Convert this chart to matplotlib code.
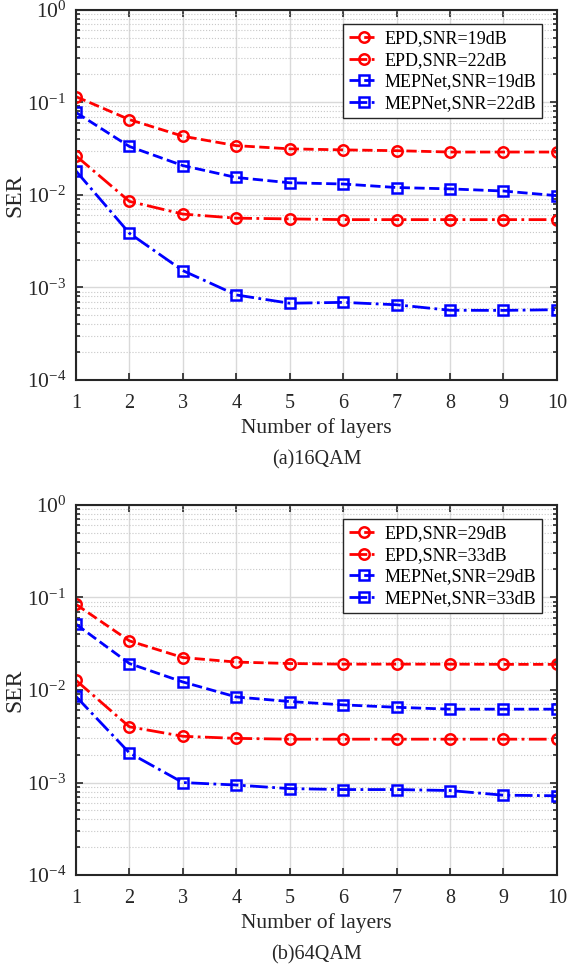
import numpy as np
import matplotlib
matplotlib.use("Agg")
import matplotlib.pyplot as plt
from matplotlib.ticker import LogLocator, NullFormatter

plt.rcParams['font.family'] = ['Liberation Serif', 'DejaVu Serif']
plt.rcParams['mathtext.fontset'] = 'stix'

layers = np.arange(1, 11)

# (a) 16QAM
epd_19 = [0.115, 0.065, 0.043, 0.034, 0.0314, 0.0306, 0.0300, 0.0290, 0.0290, 0.0290]
epd_22 = [0.0264, 0.0085, 0.0062, 0.0056, 0.0055, 0.0054, 0.0054, 0.0054, 0.0054, 0.0054]
mep_19 = [0.0776, 0.0333, 0.0207, 0.0154, 0.0135, 0.0131, 0.0120, 0.0116, 0.0110, 0.0098]
mep_22 = [0.0181, 0.00385, 0.00152, 0.00083, 0.000675, 0.00069, 0.00065, 0.000567, 0.000565, 0.000575]

# (b) 64QAM
epd_29 = [0.084, 0.0339, 0.0224, 0.0200, 0.0193, 0.0190, 0.0190, 0.0190, 0.0189, 0.0189]
epd_33 = [0.0127, 0.0040, 0.00316, 0.0030, 0.00294, 0.00294, 0.00294, 0.00294, 0.00294, 0.00294]
mep_29 = [0.0513, 0.0193, 0.0122, 0.0084, 0.0075, 0.0069, 0.0065, 0.0062, 0.0062, 0.0062]
mep_33 = [0.0085, 0.00209, 0.00100, 0.00094, 0.00086, 0.00084, 0.00084, 0.00082, 0.00073, 0.00072]

panels = [
    ("(a)16QAM", [("EPD,SNR=19dB", epd_19), ("EPD,SNR=22dB", epd_22),
                  ("MEPNet,SNR=19dB", mep_19), ("MEPNet,SNR=22dB", mep_22)]),
    ("(b)64QAM", [("EPD,SNR=29dB", epd_29), ("EPD,SNR=33dB", epd_33),
                  ("MEPNet,SNR=29dB", mep_29), ("MEPNet,SNR=33dB", mep_33)]),
]
styles = [('r', '--', 'o'), ('r', '-.', 'o'), ('b', '--', 's'), ('b', '-.', 's')]

fig = plt.figure(figsize=(5.67, 9.67), dpi=100)
boxes = [[0.134, 0.607, 0.848, 0.383], [0.134, 0.095, 0.848, 0.383]]

for box, (caption, series) in zip(boxes, panels):
    ax = fig.add_axes(box)
    for (name, vals), (c, ls, mk) in zip(series, styles):
        ms = 7.5 if mk == 'o' else 6.5
        ax.plot(layers, vals, color=c, linestyle=ls, linewidth=2, marker=mk,
                markersize=ms, markerfacecolor='none', markeredgewidth=1.8,
                label=name)
    ax.set_yscale('log')
    ax.set_ylim(1e-4, 1)
    ax.set_xlim(1, 10)
    ax.set_xticks(layers)
    ax.yaxis.set_major_locator(LogLocator(base=10, numticks=10))
    ax.yaxis.set_minor_locator(LogLocator(base=10, subs=np.arange(2, 10), numticks=20))
    ax.yaxis.set_minor_formatter(NullFormatter())
    ax.grid(True, which='major', color='#d9d9d9', linewidth=1.0)
    ax.grid(True, which='minor', axis='y', color='#c8c8c8', linestyle=':', linewidth=0.8)
    ax.set_axisbelow(True)
    ax.tick_params(which='both', direction='in', top=True, right=True,
                   width=1.2, colors='#262626', labelcolor='#262626')
    ax.tick_params(which='major', length=5, pad=7)
    ax.tick_params(which='minor', length=3)
    ax.tick_params(axis='x', labelsize=14.5, pad=10)
    ax.tick_params(axis='y', labelsize=15.5)
    for sp in ax.spines.values():
        sp.set_linewidth(1.5)
        sp.set_color('#262626')
    ax.set_ylabel('SER', fontsize=17, color='#262626', labelpad=1)
    ax.set_xlabel('Number of layers', fontsize=15.5, color='#262626', labelpad=4)
    ax.text(0.5, -0.215, caption, transform=ax.transAxes, ha='center', va='center',
            fontsize=14.5, color='#262626')
    leg = ax.legend(loc='upper right', fontsize=13, handlelength=1.6,
                    handletextpad=0.35, borderpad=0.35, labelspacing=0.25,
                    fancybox=False, framealpha=1, edgecolor='#262626',
                    borderaxespad=0.8)
    leg.get_frame().set_linewidth(1.0)

fig.savefig('out.png', dpi=100)
